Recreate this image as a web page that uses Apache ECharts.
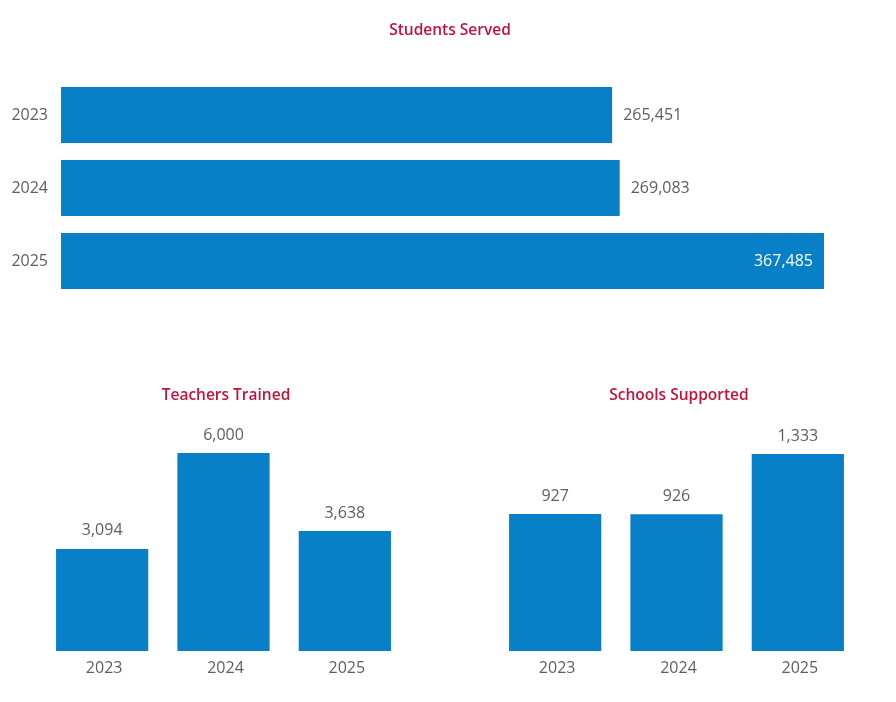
<!DOCTYPE html>
<html><head><meta charset="utf-8">
<script src="https://cdn.jsdelivr.net/npm/echarts@6/dist/echarts.min.js"></script>
<style>html,body{margin:0;padding:0;background:#fff}#c{width:896px;height:702px}</style>
</head><body><div id="c"></div>
<script>
const years = ['2023','2024','2025'];
const students = [265451, 269083, 367485];
const teachers = [3094, 6000, 3638];
const schools = [927, 926, 1333];
const titles = ['Students Served','Teachers Trained','Schools Supported'];

const barColor = '#0780C8';
const txt = '#605E5C';
const font = 'Open Sans';
const fmt = v => v.toLocaleString('en-US');
const titleStyle = {color:'#C0143C', fontSize:15.5, fontWeight:600, fontFamily:font};

const chart = echarts.init(document.getElementById('c'));
chart.setOption({
  animation:false,
  title:[
    {text:titles[0], left:445, top:18, textAlign:'center', textStyle:titleStyle},
    {text:titles[1], left:221, top:383, textAlign:'center', textStyle:titleStyle},
    {text:titles[2], left:674, top:383, textAlign:'center', textStyle:titleStyle}
  ],
  grid:[
    {left:61, width:763, top:78.5, height:219},
    {left:41.5, width:364, top:453, height:198},
    {left:494.5, width:364, top:454, height:197}
  ],
  xAxis:[
    {gridIndex:0, type:'value', min:0, max:'dataMax', show:false},
    {gridIndex:1, type:'category', data:years, axisLine:{show:false}, axisTick:{show:false},
     axisLabel:{color:txt, fontSize:16, fontFamily:font, margin:9, padding:[0,0,0,4]}},
    {gridIndex:2, type:'category', data:years, axisLine:{show:false}, axisTick:{show:false},
     axisLabel:{color:txt, fontSize:16, fontFamily:font, margin:9, padding:[0,0,0,4]}}
  ],
  yAxis:[
    {gridIndex:0, type:'category', data:years, inverse:true, axisLine:{show:false}, axisTick:{show:false},
     axisLabel:{color:txt, fontSize:16, fontFamily:font, margin:13, padding:[3,0,0,0]}},
    {gridIndex:1, type:'value', min:0, max:'dataMax', show:false},
    {gridIndex:2, type:'value', min:0, max:'dataMax', show:false}
  ],
  series:[
    {type:'bar', xAxisIndex:0, yAxisIndex:0, barCategoryGap:'23%', itemStyle:{color:barColor},
     data: students.map((v,i)=> i===2 ? {value:v, label:{position:'insideRight', color:'#fff'}} : v),
     label:{show:true, position:'right', distance:11, color:txt, fontSize:16, fontFamily:font, padding:[2,0,0,0], formatter:p=>fmt(p.value)}},
    {type:'bar', xAxisIndex:1, yAxisIndex:1, barCategoryGap:'24%', itemStyle:{color:barColor}, data:teachers,
     label:{show:true, position:'top', distance:10, color:txt, fontSize:16, fontFamily:font, formatter:p=>fmt(p.value)}},
    {type:'bar', xAxisIndex:2, yAxisIndex:2, barCategoryGap:'24%', itemStyle:{color:barColor}, data:schools,
     label:{show:true, position:'top', distance:10, color:txt, fontSize:16, fontFamily:font, formatter:p=>fmt(p.value)}}
  ]
});
</script></body></html>
